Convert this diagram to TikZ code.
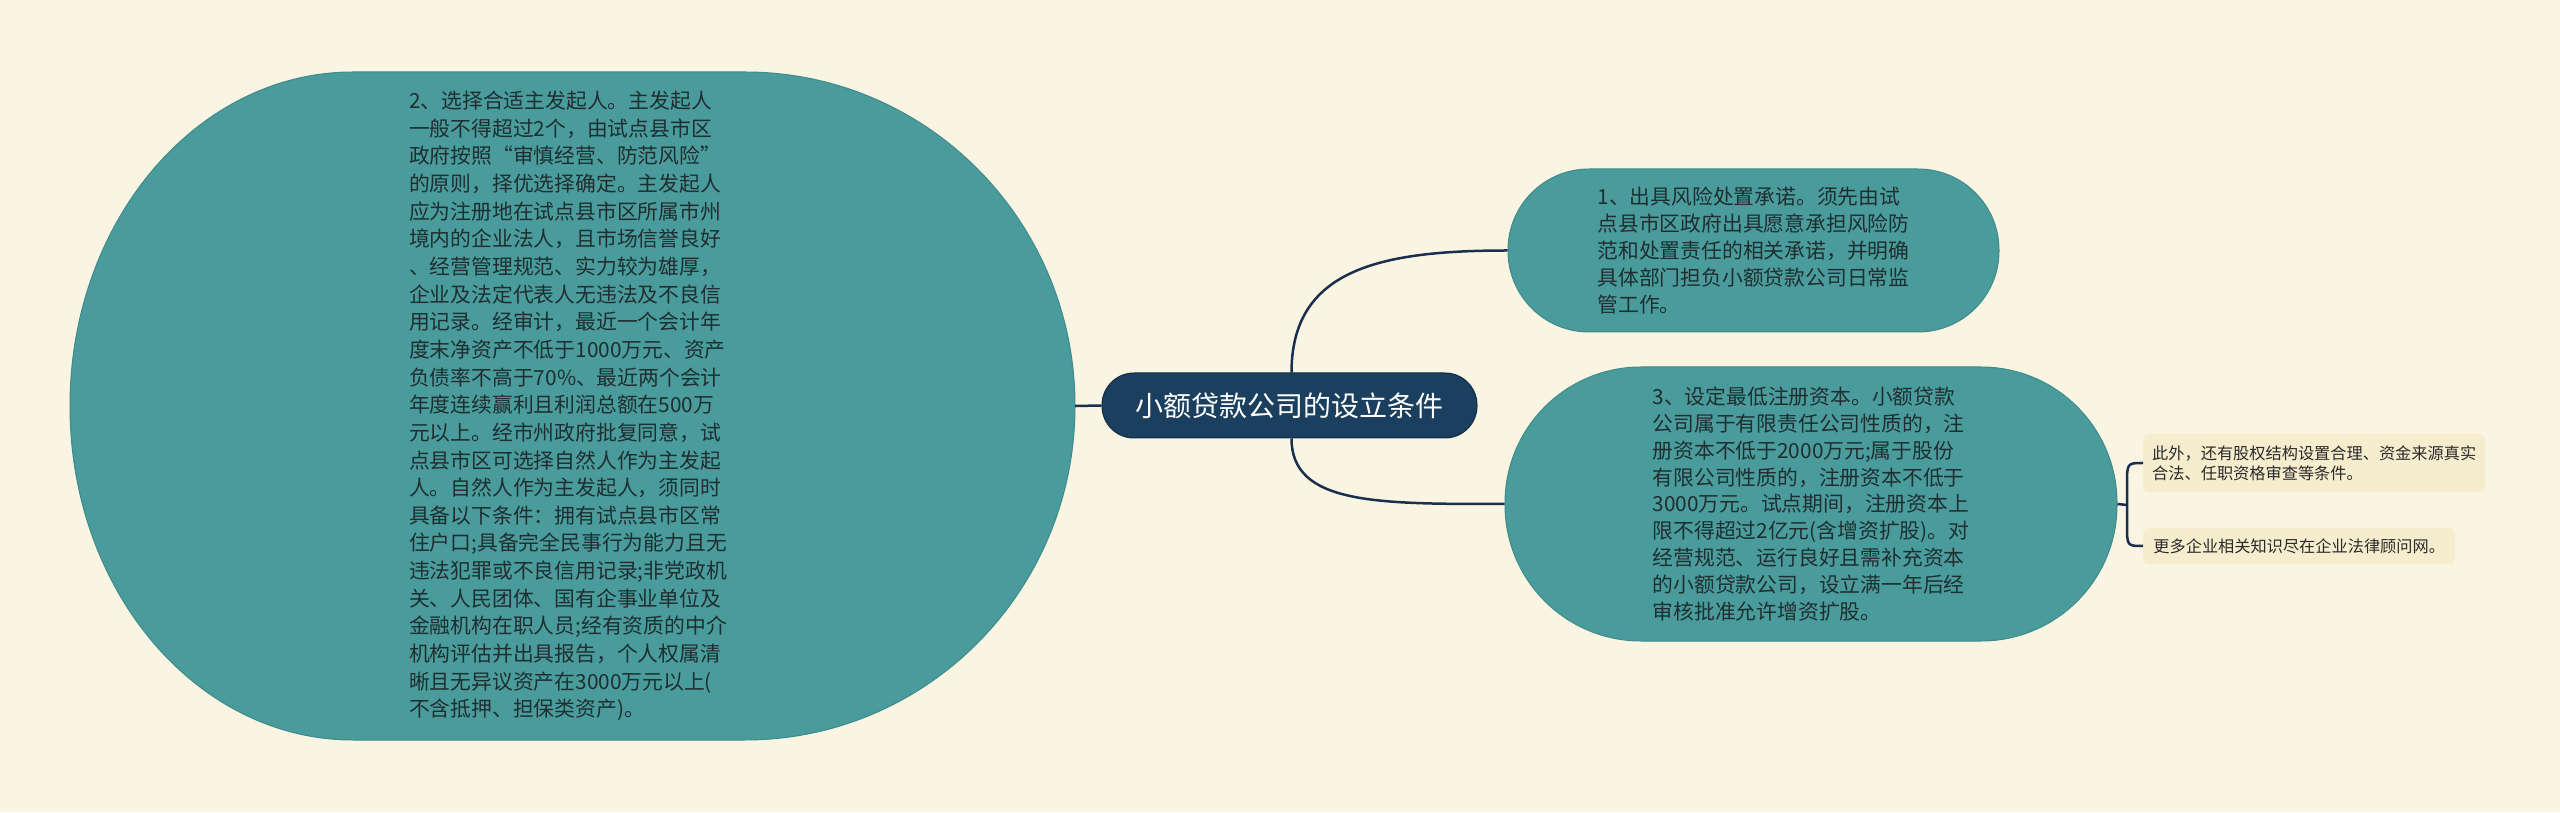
\documentclass[tikz,border=0pt]{standalone}
\usepackage{fontspec}
\setmainfont{Noto Sans CJK SC}
\definecolor{bgc}{HTML}{FAF5E2}
\definecolor{tealf}{HTML}{4A9B9B}
\definecolor{teald}{HTML}{3E8B8B}
\definecolor{navyf}{HTML}{1B3F5E}
\definecolor{navyd}{HTML}{102C47}
\definecolor{linec}{HTML}{1A2F4E}
\definecolor{txtd}{HTML}{1F2E30}
\definecolor{smallf}{HTML}{F5EDCE}
\definecolor{smallt}{HTML}{2A2A2A}
\tikzset{
  tealbox/.style={draw=teald, line width=1pt, fill=tealf, text=txtd, align=left, inner sep=0pt},
  centerbox/.style={draw=navyd, line width=1pt, fill=navyf, text=white, inner sep=0pt,
    minimum width=375pt, minimum height=65pt, rounded corners=32pt,
    font=\fontsize{28pt}{34pt}\selectfont},
  smallbox/.style={fill=smallf, text=smallt, align=left, inner xsep=9pt, inner ysep=0pt,
    rounded corners=6pt, anchor=west, font=\fontsize{16.2pt}{20pt}\selectfont},
  conn/.style={draw=linec, line width=2.5pt},
}
\begin{document}
\begin{tikzpicture}[x=1pt,y=1pt]
\fill[bgc] (0,0) rectangle (2560,812);
\useasboundingbox (0,0) rectangle (2560,812);
% left big shape
\fill[tealf, draw=teald, line width=1pt] (353,740) -- (745,740)
  arc[start angle=90, end angle=-90, x radius=330pt, y radius=334pt]
  -- (353,72)
  arc[start angle=270, end angle=90, x radius=283pt, y radius=334pt] -- cycle;
\coordinate (n2e) at (1075,406);
\node[text=txtd, align=left, inner sep=0pt, font=\fontsize{20.8pt}{27.65pt}\selectfont] (n2) at (568,406) {2、选择合适主发起人。主发起人\\
一般不得超过2个，由试点县市区\\
政府按照“审慎经营、防范风险”\\
的原则，择优选择确定。主发起人\\
应为注册地在试点县市区所属市州\\
境内的企业法人，且市场信誉良好\\
、经营管理规范、实力较为雄厚，\\
企业及法定代表人无违法及不良信\\
用记录。经审计，最近一个会计年\\
度末净资产不低于1000万元、资产\\
负债率不高于70\%、最近两个会计\\
年度连续赢利且利润总额在500万\\
元以上。经市州政府批复同意，试\\
点县市区可选择自然人作为主发起\\
人。自然人作为主发起人，须同时\\
具备以下条件：拥有试点县市区常\\
住户口;具备完全民事行为能力且无\\
违法犯罪或不良信用记录;非党政机\\
关、人民团体、国有企事业单位及\\
金融机构在职人员;经有资质的中介\\
机构评估并出具报告，个人权属清\\
晰且无异议资产在3000万元以上(\\
不含抵押、担保类资产)。};
% central
\node[centerbox] (c) at (1289.5,406.5) {小额贷款公司的设立条件};
% node 1
\node[tealbox, minimum width=491pt, minimum height=163pt, rounded corners=81pt,
  font=\fontsize{20.8pt}{26.8pt}\selectfont] (n1) at (1753.5,561.5) {1、出具风险处置承诺。须先由试\\
点县市区政府出具愿意承担风险防\\
范和处置责任的相关承诺，并明确\\
具体部门担负小额贷款公司日常监\\
管工作。};
% node 3
\node[tealbox, minimum width=612pt, minimum height=274pt, rounded corners=136pt,
  font=\fontsize{20.8pt}{26.8pt}\selectfont] (n3) at (1811,308) {3、设定最低注册资本。小额贷款\\
公司属于有限责任公司性质的，注\\
册资本不低于2000万元;属于股份\\
有限公司性质的，注册资本不低于\\
3000万元。试点期间，注册资本上\\
限不得超过2亿元(含增资扩股)。对\\
经营规范、运行良好且需补充资本\\
的小额贷款公司，设立满一年后经\\
审核批准允许增资扩股。};
% small nodes
\node[smallbox, minimum height=58pt] (na) at (2143,349) {此外，还有股权结构设置合理、资金来源真实\\合法、任职资格审查等条件。};
\node[smallbox, minimum height=36pt, minimum width=312pt] (nb) at (2143,266) {更多企业相关知识尽在企业法律顾问网。};
% connectors
\draw[conn] (c.west) -- (n2e);
\draw[conn] ([xshift=2pt]c.north) .. controls +(0,103) and +(-128,0) .. (n1.west);
\draw[conn] ([xshift=2pt]c.south) .. controls +(0,-66) and +(-128,0) .. (n3.west);
\coordinate (bmid) at (2127,307);
\draw[conn] (n3.east) -- (bmid);
\draw[conn] (na.west) .. controls (2127,349) .. (2127,327) -- (2127,287) .. controls (2127,266) .. (nb.west);
\end{tikzpicture}
\end{document}
